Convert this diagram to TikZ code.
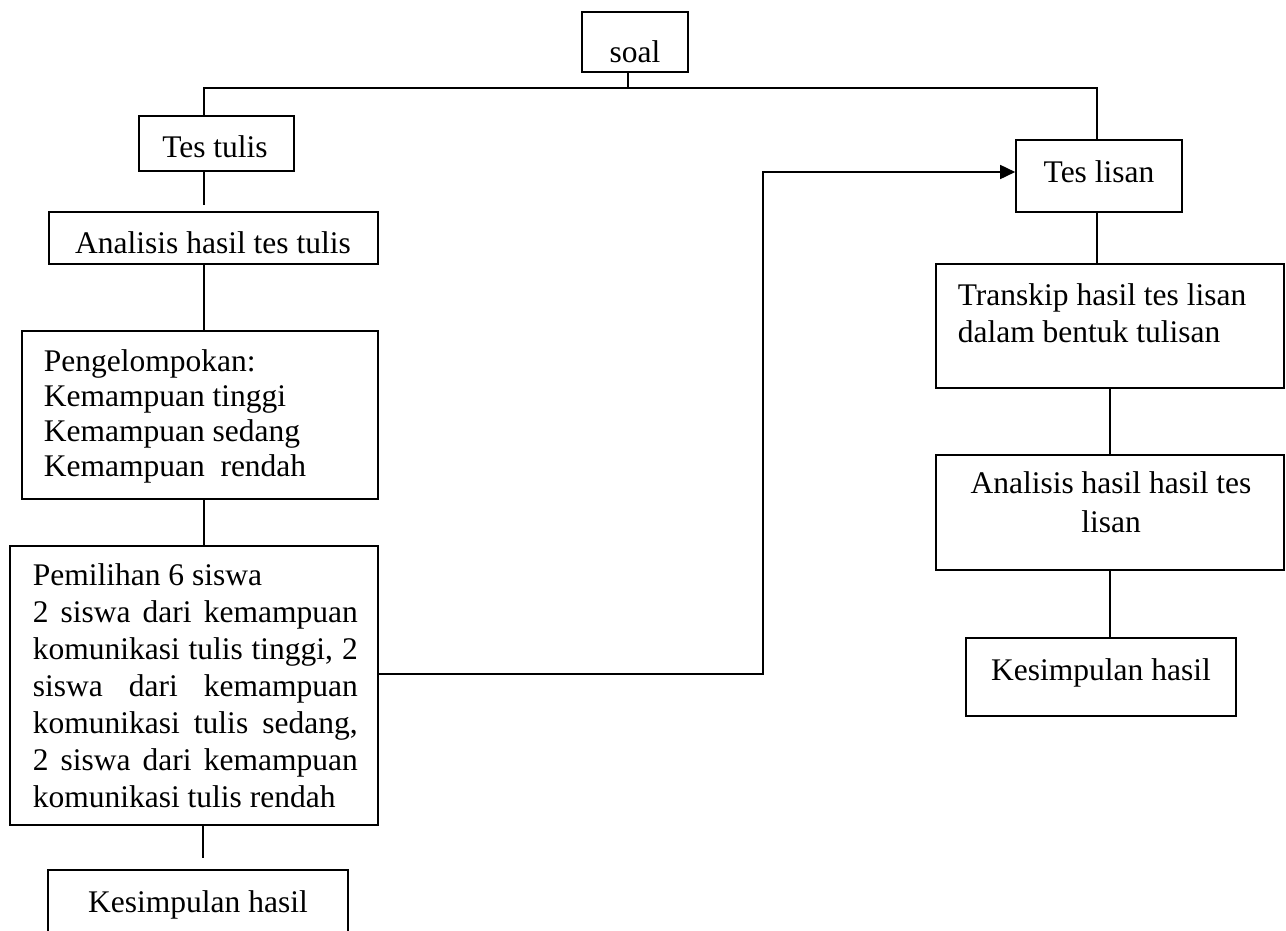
\documentclass[tikz,border=0pt]{standalone}
\usepackage{fontspec}
\setmainfont{Liberation Serif}
\usetikzlibrary{arrows.meta,fit}
\begin{document}
\begin{tikzpicture}[x=1pt,y=-1pt,
  line width=1.6pt,
  box/.style={draw, inner sep=0pt, line width=1.6pt},
  openbox/.style={inner sep=0pt},
  lbl/.style={anchor=base, inner sep=0pt, font=\fontsize{31.5}{37}\selectfont},
  lblw/.style={anchor=base west, inner sep=0pt, font=\fontsize{31.5}{37}\selectfont},
  conn/.style={line width=1.6pt},
  arr/.style={line width=1.6pt, -{Triangle[length=15pt,width=14pt]}}]
\useasboundingbox (0,0) rectangle (1286,930);
\fill[white] (0,0) rectangle (1286,930);

% boxes
\node[box, fit={(582,12) (688,72)}] (soal) {};
\node[box, fit={(139,116) (294,171)}] (testulis) {};
\node[box, fit={(49,212) (378,264)}] (antulis) {};
\node[box, fit={(22,331) (378,499)}] (kelompok) {};
\node[box, fit={(10,546) (378,825)}] (pilih) {};
\node[openbox, fit={(49,871) (347,936)}] (kesl) {};
\draw[conn] (kesl.south west) -- (kesl.north west) -- (kesl.north east) -- (kesl.south east);
\node[box, fit={(1016,140) (1182,212)}] (teslisan) {};
\node[box, fit={(936,264) (1284,388)}] (transkip) {};
\node[box, fit={(936,455) (1284,570)}] (anlisan) {};
\node[box, fit={(966,638) (1236,716)}] (kesr) {};

% texts
\node[lbl] (tsoal) at (635,62) {soal};
\node[lbl] (ttestulis) at (215,157) {Tes tulis};
\node[lbl] (tantulis) at (213,253) {Analisis hasil tes tulis};
\node[lblw] (tkelompok) at (43,371) {\parbox[t]{330pt}{\fontsize{31.5}{35}\selectfont\raggedright
Pengelompokan:\\Kemampuan tinggi\\Kemampuan sedang\\Kemampuan~ rendah}};
\node[lblw] (tpilih) at (32,585) {\parbox[t]{325pt}{\fontsize{31.5}{37}\selectfont\raggedright
Pemilihan 6 siswa\\
\makebox[\linewidth][s]{2 siswa dari kemampuan}\\
\makebox[\linewidth][s]{komunikasi tulis tinggi, 2}\\
\makebox[\linewidth][s]{siswa dari kemampuan}\\
\makebox[\linewidth][s]{komunikasi tulis sedang,}\\
\makebox[\linewidth][s]{2 siswa dari kemampuan}\\
komunikasi tulis rendah}};
\node[lbl] (tkesl) at (198,912) {Kesimpulan hasil};
\node[lbl] (tteslisan) at (1099,182) {Tes lisan};
\node[lblw] (ttranskip) at (957,305) {\parbox[t]{320pt}{\fontsize{31.5}{37}\selectfont\raggedright
Transkip hasil tes lisan\\dalam bentuk tulisan}};
\node[lbl] (tanlisan) at (1111,493) {\parbox[t]{340pt}{\fontsize{31.5}{39}\selectfont\centering
Analisis hasil hasil tes\\lisan}};
\node[lbl] (tkesr) at (1101,680) {Kesimpulan hasil};

% connectors
\coordinate (j) at (628,88);
\coordinate (jl) at (204,88);
\coordinate (jr) at (1097,88);
\draw[conn] (j |- soal.south) -- (j);
\draw[conn] (jl |- testulis.north) -- (jl) -- (jr) -- (jr |- teslisan.north);
\coordinate (g1) at (204,205);
\draw[conn] (jl |- testulis.south) -- (g1);
\draw[conn] (jl |- antulis.south) -- (jl |- kelompok.north);
\draw[conn] (jl |- kelompok.south) -- (jl |- pilih.north);
\coordinate (g2) at (203,858);
\draw[conn] (g2 |- pilih.south) -- (g2);
\coordinate (b1) at (763,674);
\coordinate (b2) at (763,172);
\draw[arr] (pilih.east |- b1) -- (b1) -- (b2) -- (teslisan.west |- b2);
\draw[conn] (jr |- teslisan.south) -- (jr |- transkip.north);
\coordinate (r2) at (1110,388);
\draw[conn] (r2 |- transkip.south) -- (r2 |- anlisan.north);
\draw[conn] (r2 |- anlisan.south) -- (r2 |- kesr.north);
\end{tikzpicture}
\end{document}
